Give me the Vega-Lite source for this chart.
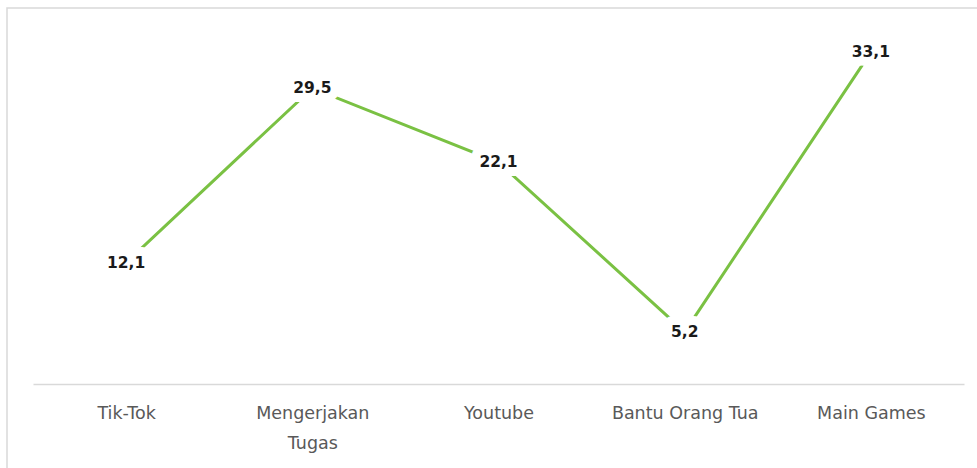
{
  "$schema": "https://vega.github.io/schema/vega-lite/v6.json",
  "width": 1000,
  "height": 480,
  "autosize": {"type": "none"},
  "padding": {"left": 7, "top": 8, "right": 0, "bottom": 0},
  "background": "white",
  "config": {
    "view": {"stroke": "#d9d9d9", "strokeWidth": 1.5},
    "locale": {"number": {"decimal": ",", "thousands": ".", "grouping": [3], "currency": ["Rp", ""]}}
  },
  "data": {
    "values": [
      {"kategori": "Tik-Tok", "nilai": 12.1},
      {"kategori": "Mengerjakan Tugas", "nilai": 29.5},
      {"kategori": "Youtube", "nilai": 22.1},
      {"kategori": "Bantu Orang Tua", "nilai": 5.2},
      {"kategori": "Main Games", "nilai": 33.1}
    ]
  },
  "encoding": {
    "x": {
      "field": "kategori",
      "type": "nominal",
      "sort": null,
      "scale": {"range": [26, 957], "padding": 0.5},
      "axis": {
        "title": null,
        "orient": "bottom",
        "offset": -104,
        "labelAngle": 0,
        "ticks": false,
        "grid": false,
        "domainColor": "#d9d9d9",
        "domainWidth": 1.5,
        "labelColor": "#595959",
        "labelFont": "DejaVu Sans",
        "labelFontSize": 17.5,
        "labelPadding": 20,
        "labelLineHeight": 30,
        "labelExpr": "datum.label == 'Mengerjakan Tugas' ? ['Mengerjakan', 'Tugas'] : datum.label"
      }
    },
    "y": {
      "field": "nilai",
      "type": "quantitative",
      "scale": {"domain": [0, 35], "range": [376, 25]},
      "axis": null
    }
  },
  "layer": [
    {"mark": {"type": "line", "color": "#7ac143", "strokeWidth": 3}},
    {
      "mark": {"type": "text", "font": "DejaVu Sans", "fontWeight": "bold", "fontSize": 15.5, "fill": "white", "stroke": "white", "strokeWidth": 18, "strokeJoin": "round"},
      "encoding": {"text": {"field": "nilai", "type": "quantitative", "format": ".1f"}}
    },
    {
      "mark": {"type": "text", "font": "DejaVu Sans", "fontWeight": "bold", "fontSize": 15.5, "fill": "#1a1a1a"},
      "encoding": {"text": {"field": "nilai", "type": "quantitative", "format": ".1f"}}
    }
  ]
}
